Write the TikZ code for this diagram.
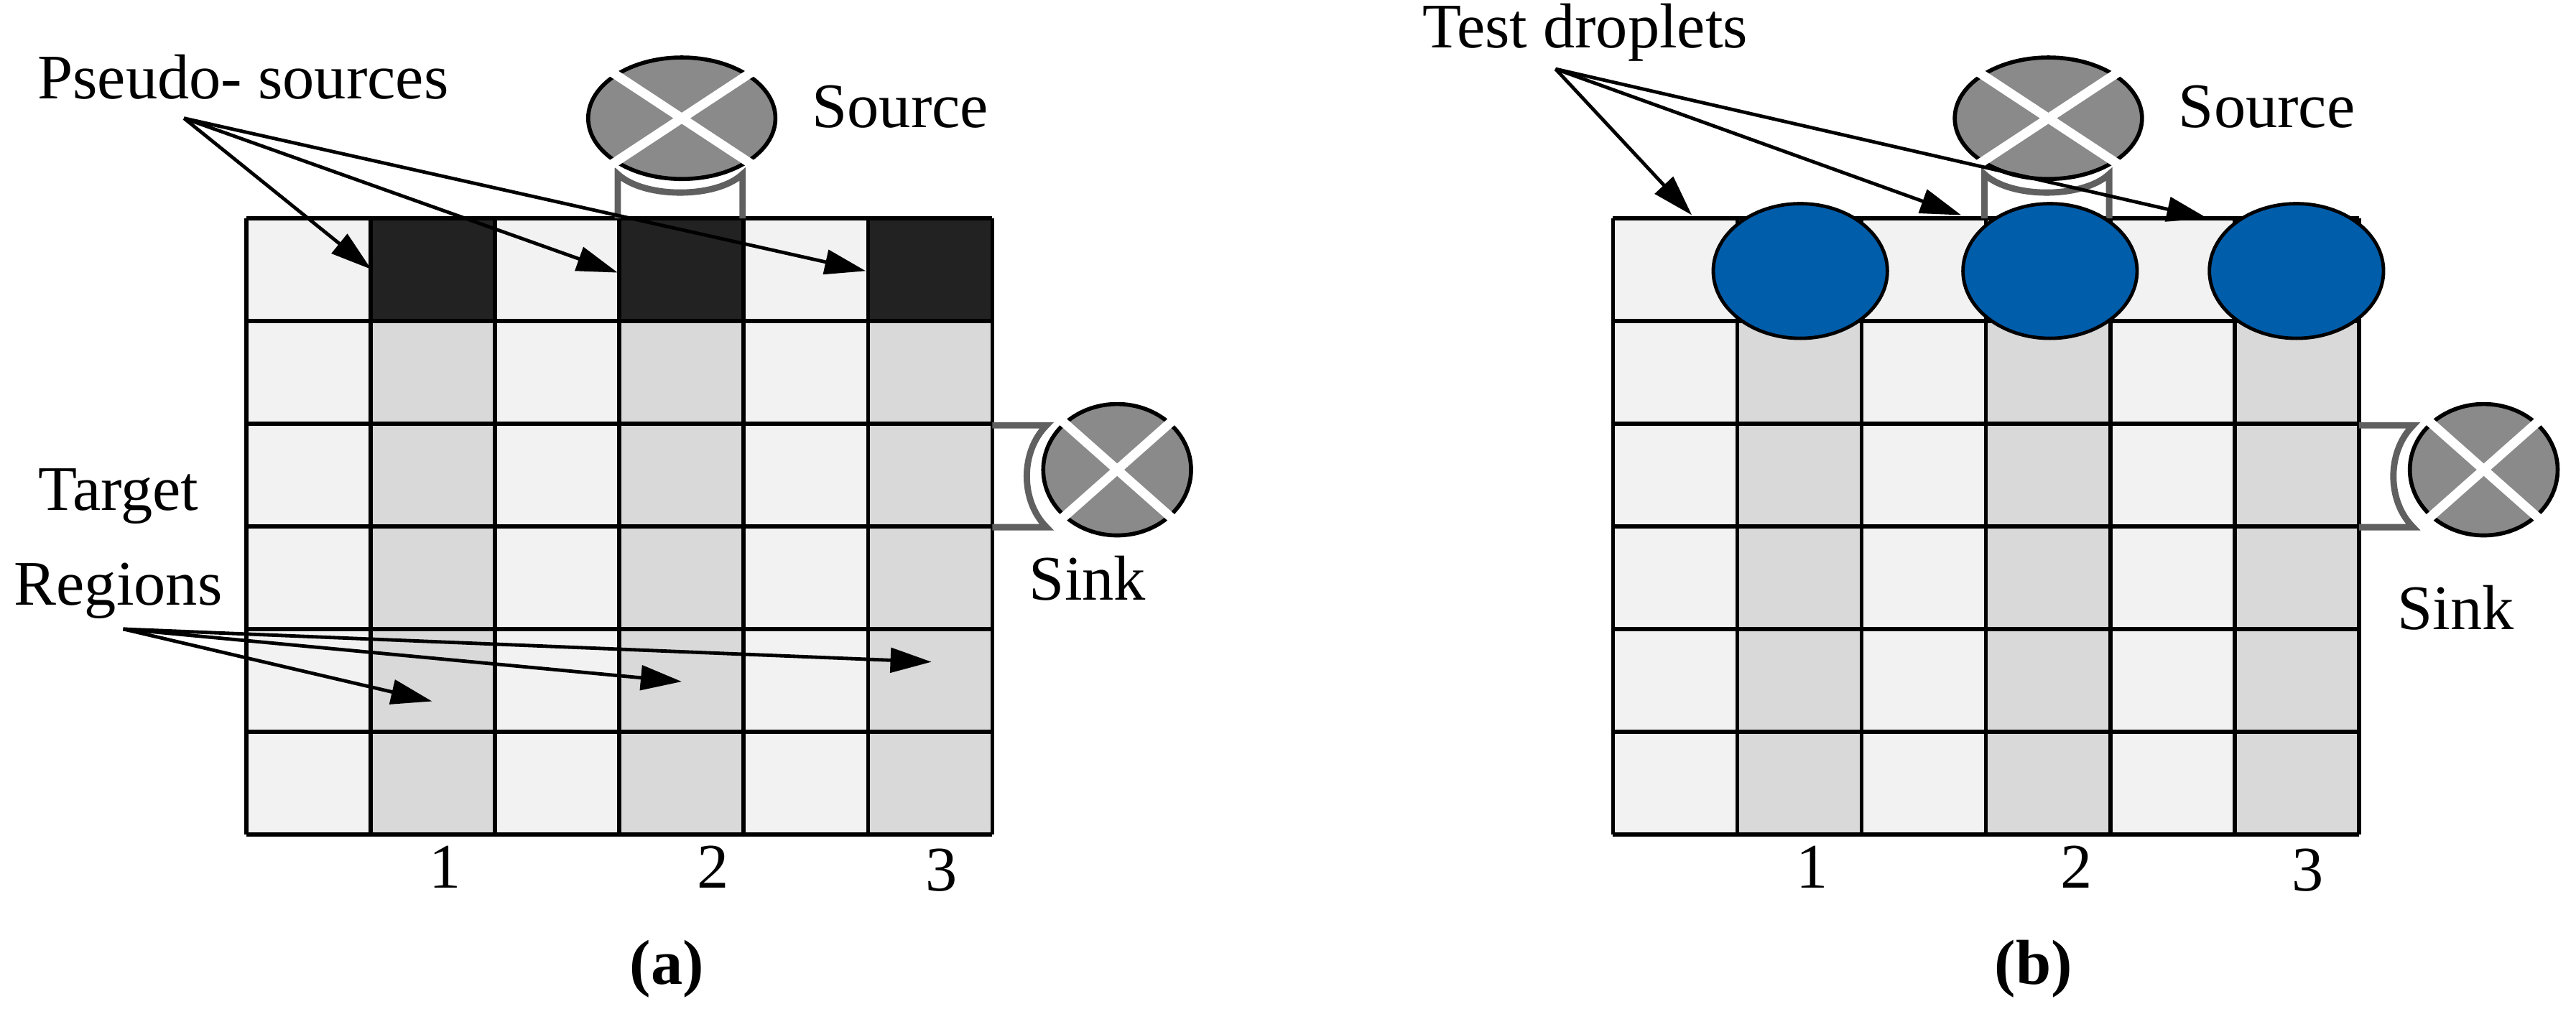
\documentclass[tikz,border=0pt]{standalone}
\usepackage{fontspec}
\setmainfont{Liberation Serif}
\usetikzlibrary{shapes.geometric,arrows.meta}
\definecolor{lite}{HTML}{F2F2F2}
\definecolor{mid}{HTML}{D9D9D9}
\definecolor{dark}{HTML}{222222}
\definecolor{hatch}{HTML}{8A8A8A}
\definecolor{brkc}{HTML}{606060}
\definecolor{drop}{HTML}{005DAA}
\begin{document}
\begin{tikzpicture}[x=0.02cm,y=-0.02cm,
  lab/.style={font=\fontsize{22}{25}\selectfont, align=center},
  grid/.style={line width=1.4pt},
  port/.style={ellipse, draw=black, line width=1.4pt, fill=hatch, inner sep=0pt},
  xx/.style={white, line width=3.2pt},
  brk/.style={brkc, line width=2.2pt},
  arr/.style={line width=1.2pt, -{Triangle[length=0.5cm,width=0.3cm]}},
  drp/.style={ellipse, draw=black, line width=1.2pt, fill=drop, minimum width=2.12cm, minimum height=1.64cm, inner sep=0pt}]
\useasboundingbox (0,0) rectangle (1568,614);
% ---------- panel (a) ----------
\foreach \c in {0,...,5}{
  \pgfmathtruncatemacro\odd{mod(\c,2)}
  \foreach \r in {0,...,5}{
    \ifnum\odd=1
      \ifnum\r=0 \def\fc{dark}\else\def\fc{mid}\fi
    \else \def\fc{lite}\fi
    \fill[\fc] (150+\c*75.67,133+\r*62.5) rectangle ++(75.67,62.5);
  }}
\foreach \c in {0,...,6} \draw[grid] (150+\c*75.67,133) -- (150+\c*75.67,508);
\foreach \r in {0,...,6} \draw[grid] (150,133+\r*62.5) -- (604,133+\r*62.5);
\draw[brk] (376,133) -- (376,106) .. controls (392,121) and (436,121) .. (452,106) -- (452,133);
\node[port, minimum width=2.28cm, minimum height=1.48cm] (srcA) at (415,72) {};
\draw[xx] (srcA.center) ++(-44,-29) -- ++(88,58);
\draw[xx] (srcA.center) ++(44,-29) -- ++(-88,58);
\draw[brk] (604,259) -- (637,259) .. controls (621,275) and (621,305) .. (637,321) -- (604,321);
\node[port, minimum width=1.8cm, minimum height=1.6cm] (sinkA) at (680,286) {};
\draw[xx] (sinkA.center) ++(-35,-31) -- ++(70,62);
\draw[xx] (sinkA.center) ++(35,-31) -- ++(-70,62);
\node[lab] (psl) at (148,47) {Pseudo- sources};
\node[lab] (srcAl) at (548,65) {Source};
\node[lab] (sinkAl) at (662,352) {Sink};
\node[lab, font=\fontsize{22}{33}\selectfont] (tgl) at (72,331) {Target\\Regions};
\coordinate (ps0) at (112,72);
\coordinate (p1) at (226,164); \coordinate (p2) at (376,166); \coordinate (p3) at (527,165);
\draw[arr] (ps0) -- (p1); \draw[arr] (ps0) -- (p2); \draw[arr] (ps0) -- (p3);
\coordinate (tg0) at (75,383);
\coordinate (t1) at (263,427); \coordinate (t2) at (415,415); \coordinate (t3) at (567,403);
\draw[arr] (tg0) -- (t1); \draw[arr] (tg0) -- (t2); \draw[arr] (tg0) -- (t3);
\node[lab] (na1) at (271,528) {1};
\node[lab] (na2) at (434,528) {2};
\node[lab] (na3) at (573,530) {3};
\node[lab, font=\fontsize{22}{25}\selectfont\bfseries] (capa) at (406,590) {(a)};
% ---------- panel (b) ----------
\begin{scope}[xshift=16.64cm]
\foreach \c in {0,...,5}{
  \pgfmathtruncatemacro\odd{mod(\c,2)}
  \foreach \r in {0,...,5}{
    \ifnum\odd=1
      \ifnum\r=0 \def\fc{lite}\else\def\fc{mid}\fi
    \else \def\fc{lite}\fi
    \fill[\fc] (150+\c*75.67,133+\r*62.5) rectangle ++(75.67,62.5);
  }}
\foreach \c in {0,...,6} \draw[grid] (150+\c*75.67,133) -- (150+\c*75.67,508);
\foreach \r in {0,...,6} \draw[grid] (150,133+\r*62.5) -- (604,133+\r*62.5);
\draw[brk] (376,133) -- (376,106) .. controls (392,121) and (436,121) .. (452,106) -- (452,133);
\node[port, minimum width=2.28cm, minimum height=1.48cm] (srcB) at (415,72) {};
\draw[xx] (srcB.center) ++(-44,-29) -- ++(88,58);
\draw[xx] (srcB.center) ++(44,-29) -- ++(-88,58);
\draw[brk] (604,259) -- (637,259) .. controls (621,275) and (621,305) .. (637,321) -- (604,321);
\node[port, minimum width=1.8cm, minimum height=1.6cm] (sinkB) at (680,286) {};
\draw[xx] (sinkB.center) ++(-35,-31) -- ++(70,62);
\draw[xx] (sinkB.center) ++(35,-31) -- ++(-70,62);
\node[drp] (d1) at (264,165) {};
\node[drp] (d2) at (416,165) {};
\node[drp] (d3) at (566,165) {};
\node[lab] (tdl) at (133,20) {Test droplets};
\node[lab] (srcBl) at (548,65) {Source};
\node[lab] (sinkBl) at (663,370) {Sink};
\coordinate (td0) at (115,42);
\coordinate (q1) at (198,131); \coordinate (q2) at (362,131); \coordinate (q3) at (512,133);
\draw[arr] (td0) -- (q1); \draw[arr] (td0) -- (q2); \draw[arr] (td0) -- (q3);
\node[lab] (nb1) at (271,528) {1};
\node[lab] (nb2) at (432,528) {2};
\node[lab] (nb3) at (573,530) {3};
\node[lab, font=\fontsize{22}{25}\selectfont\bfseries] (capb) at (406,590) {(b)};
\end{scope}
\end{tikzpicture}
\end{document}
